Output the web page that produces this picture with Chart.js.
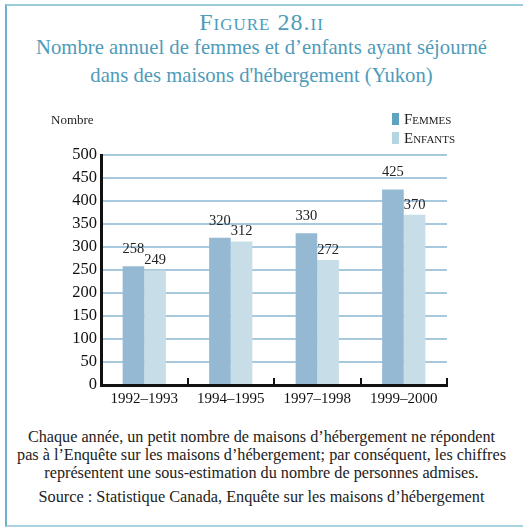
<!DOCTYPE html>
<html>
<head>
<meta charset="utf-8">
<script src="https://cdn.jsdelivr.net/npm/chart.js@4/dist/chart.umd.min.js"></script>
<style>
  body { margin: 0; width: 523px; height: 527px; background: #fff; overflow: hidden; font-family: 'Liberation Serif'; }
  .frame { position: absolute; left: 5px; top: 4px; width: 530px; height: 523px; box-sizing: border-box;
           border-left: 2px solid #6fb0ca; border-top: 2px solid #9ccbdc; border-bottom: 2px solid #a9d2e0; }
  .fig { position: absolute; top: 8px; left: 0; width: 523px; text-align: center; color: #4f9bba;
         font-size: 24px; line-height: 28px; font-variant: small-caps; letter-spacing: 1px; }
  .sub { position: absolute; top: 33px; left: 0; width: 523px; text-align: center; color: #4f9bba;
         font-size: 20.7px; line-height: 28px; }
  .note { position: absolute; top: 428px; left: 0; width: 523px; text-align: center; color: #222;
          font-size: 16.2px; line-height: 18px; }
  .source { position: absolute; top: 488px; left: 0; width: 523px; text-align: center; color: #222;
            font-size: 16.3px; line-height: 18px; }
  #wrap { position: absolute; left: 0; top: 0; width: 523px; height: 527px; }
</style>
</head>
<body>
<div class="frame"></div>
<div class="fig">Figure 28.ii</div>
<div class="sub">Nombre annuel de femmes et d’enfants ayant séjourné<br>dans des maisons d'hébergement (Yukon)</div>
<div class="note">Chaque année, un petit nombre de maisons d’hébergement ne répondent<br>pas à l’Enquête sur les maisons d’hébergement; par conséquent, les chiffres<br>représentent une sous-estimation du nombre de personnes admises.</div>
<div class="source">Source : Statistique Canada, Enquête sur les maisons d’hébergement</div>
<div id="wrap"><canvas id="myChart" width="523" height="527"></canvas></div>
<script>
let periods = ['1992–1993', '1994–1995', '1997–1998', '1999–2000'];
let femmes = [258, 320, 330, 425];
let enfants = [249, 312, 272, 370];
let yTicks = [0, 50, 100, 150, 200, 250, 300, 350, 400, 450, 500];

const serif = '"Liberation Serif"';

// numbers written above each bar
const valueLabels = {
  id: 'valueLabels',
  afterDatasetsDraw(chart) {
    const ctx = chart.ctx;
    ctx.save();
    ctx.font = '14.5px ' + serif;
    ctx.fillStyle = '#222';
    ctx.textAlign = 'center';
    ctx.textBaseline = 'middle';
    chart.data.datasets.forEach((ds, i) => {
      chart.getDatasetMeta(i).data.forEach((bar, j) => {
        ctx.fillText(ds.data[j], bar.x, bar.y - ds.labelLift);
      });
    });
    ctx.restore();
  }
};

// small-caps legend on the right and the "Nombre" unit label
const extras = {
  id: 'extras',
  afterDraw(chart) {
    const ctx = chart.ctx;
    const area = chart.chartArea;
    ctx.save();
    ctx.textBaseline = 'alphabetic';
    ctx.fillStyle = '#222';
    ctx.font = '13px ' + serif;
    ctx.textAlign = 'left';
    ctx.fillText('Nombre', area.left - 50, area.top - 31);

    chart.data.datasets.forEach((ds, i) => {
      const top = area.top - 42 + i * 19;
      const x = area.right - 55;
      ctx.fillStyle = ds.legendColor;
      ctx.fillRect(x, top, 7, 12);
      ctx.fillStyle = '#222';
      let tx = x + 12;
      const base = top + 11;
      ctx.font = '15px ' + serif;
      ctx.fillText(ds.label[0], tx, base);
      tx += ctx.measureText(ds.label[0]).width;
      ctx.font = '11px ' + serif;
      ctx.fillText(ds.label.slice(1).toUpperCase(), tx, base);
    });
    ctx.restore();
  }
};

let canvas = document.getElementById('myChart');
let ctx = canvas.getContext('2d');

let myChart = new Chart(ctx, {
  type: 'bar',
  data: {
    labels: periods,
    datasets: [{
      label: 'Femmes',
      data: femmes,
      backgroundColor: '#95b9d3',
      legendColor: '#5ea3bf',
      labelLift: 17
    }, {
      label: 'Enfants',
      data: enfants,
      backgroundColor: '#c7dde8',
      legendColor: '#b3d6e2',
      labelLift: 10
    }]
  },
  options: {
    responsive: false,
    animation: false,
    categoryPercentage: 0.5,
    barPercentage: 1.0,
    layout: { padding: { left: 0, right: 76, top: 155, bottom: 112 } },
    plugins: {
      legend: { display: false },
      tooltip: { enabled: false }
    },
    scales: {
      x: {
        grid: { offset: true, drawOnChartArea: false, drawTicks: true, tickLength: -7, color: '#111', lineWidth: 2 },
        border: { display: true, color: '#111', width: 3 },
        ticks: { color: '#111', font: { family: serif, size: 15 }, padding: 12 },
        afterFit(scale) { scale.height = 30; }
      },
      y: {
        min: 0,
        max: 500,
        afterBuildTicks(scale) { scale.ticks = yTicks.map(v => ({ value: v })); },
        grid: { color: '#a8c9dd', lineWidth: 2, drawTicks: false },
        border: { display: true, color: '#111', width: 3 },
        ticks: { color: '#111', font: { family: serif, size: 16.5 }, padding: 4 },
        afterFit(scale) { scale.width = 101; }
      }
    }
  },
  plugins: [valueLabels, extras]
});
</script>
</body>
</html>
